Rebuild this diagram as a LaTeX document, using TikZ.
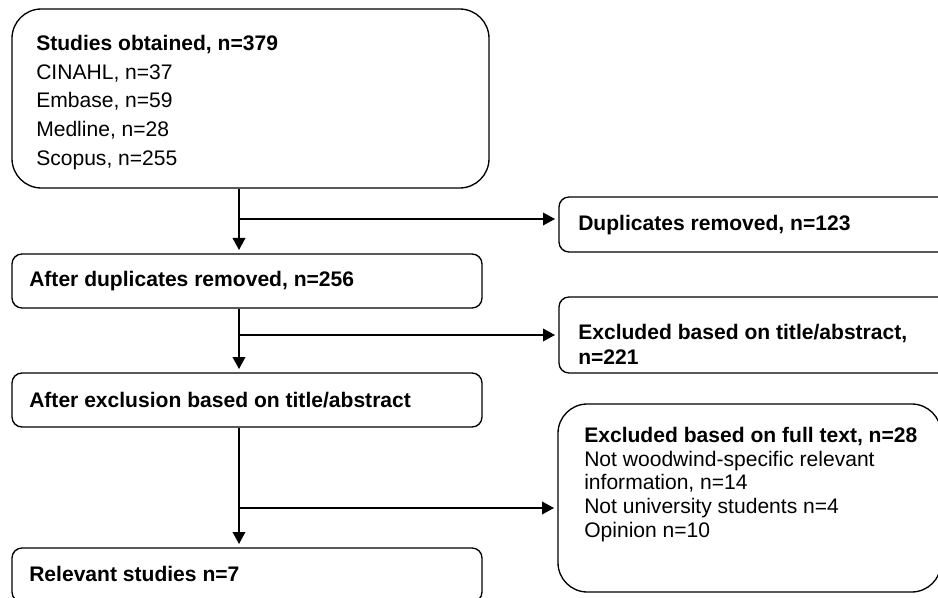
\documentclass[tikz,border=0pt]{standalone}
\usepackage{fontspec}
\setmainfont{Liberation Sans}
\usetikzlibrary{arrows.meta,calc}
\begin{document}
\begin{tikzpicture}[x=0.75pt,y=-0.75pt,
  box/.style={draw=black, line width=1pt, rounded corners=7.5pt, inner sep=0pt},
  bigbox/.style={box, rounded corners=22pt},
  txt/.style={inner sep=0pt, anchor=west, align=left},
  fA/.style={font=\fontsize{15.8}{21.6}\selectfont},
  fB/.style={font=\fontsize{15.8}{18.75}\selectfont},
  fC/.style={font=\fontsize{15.8}{17.8}\selectfont},
  arr/.style={line width=1.1pt, -{Triangle[length=9pt,width=9.5pt]}, shorten >=2.5pt},
  ]
\useasboundingbox (0,0) rectangle (938,598);

% boxes
\node[bigbox, minimum width=357.75pt, minimum height=134.25pt] (box1) at (250.5,98.5) {};
\node[box, minimum width=352.5pt, minimum height=40.5pt] (box2) at (247,281) {};
\node[box, minimum width=352.5pt, minimum height=40.5pt] (box3) at (247,400) {};
\node[box, minimum width=352.5pt, minimum height=40.5pt] (box4) at (247,575) {};
\node[box, minimum width=293.25pt, minimum height=41.25pt] (r1) at (754.5,224.5) {};
\node[box, minimum width=293.25pt, minimum height=57pt] (r2) at (754.5,335) {};
\node[bigbox, minimum width=287.25pt, minimum height=141pt] (r3) at (749.5,498) {};

% texts
\node[txt, fA] (t1) at (36,102.5) {\textbf{Studies obtained, n=379}\\CINAHL, n=37\\Embase, n=59\\Medline, n=28\\Scopus, n=255};
\node[txt, fA] (t2) at (29,281) {\textbf{After duplicates removed, n=256}};
\node[txt, fA] (t3) at (29,400) {\textbf{After exclusion based on title/abstract}};
\node[txt, fA] (t4) at (29,574) {\textbf{Relevant studies n=7}};
\node[txt, fA] (tr1) at (578,225) {\textbf{Duplicates removed, n=123}};
\node[txt, fB] (tr2) at (578,344.5) {\textbf{Excluded based on title/abstract,}\\\textbf{n=221}};
\node[txt, fC] (tr3) at (584,484.5) {\textbf{Excluded based on full text, n=28}\\Not woodwind-specific relevant\\information, n=14\\Not university students n=4\\Opinion n=10};

% branch points
\coordinate (b1) at (239,219);
\coordinate (b2) at (239,335);
\coordinate (b3) at (239,508);

% connectors
\draw[arr] (b1 |- box1.south) -- (b1 |- box2.north);
\draw[arr] (b2 |- box2.south) -- (b2 |- box3.north);
\draw[arr] (b3 |- box3.south) -- (b3 |- box4.north);
\draw[arr] (b1) -- (b1 -| r1.west);
\draw[arr] (b2) -- (b2 -| r2.west);
\draw[arr] (b3) -- (b3 -| r3.west);
\end{tikzpicture}
\end{document}
